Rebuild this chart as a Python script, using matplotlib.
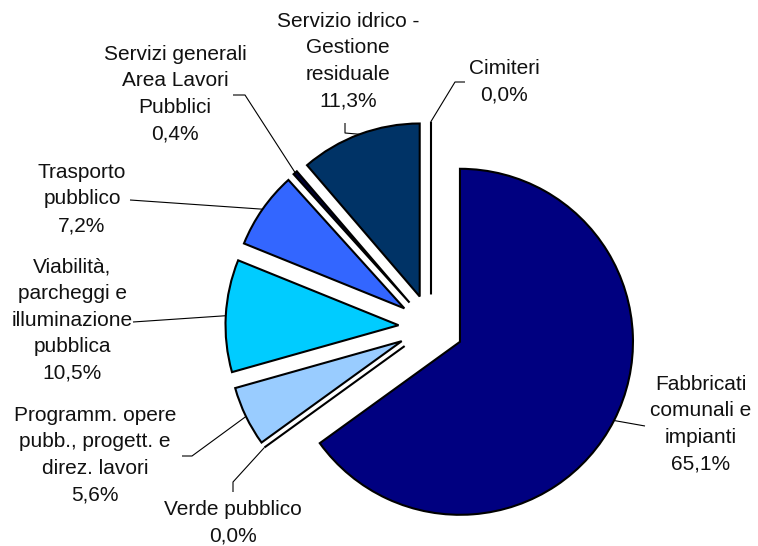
import numpy as np
import matplotlib
matplotlib.use("Agg")
import matplotlib.pyplot as plt

# Spending share per area (percent), clockwise from 12 o'clock
categories = [
    "Fabbricati\ncomunali e\nimpianti",
    "Verde pubblico",
    "Programm. opere\npubb., progett. e\ndirez. lavori",
    "Viabilità,\nparcheggi e\nilluminazione\npubblica",
    "Trasporto\npubblico",
    "Servizi generali\nArea Lavori\nPubblici",
    "Servizio idrico -\nGestione\nresiduale",
    "Cimiteri",
]
shares = [65.1, 0.0, 5.6, 10.5, 7.2, 0.4, 11.3, 0.0]
colors = ["#000080", "#FFFFFF", "#99CCFF", "#00CCFF", "#3366FF", "#000033", "#003366", "#FFFFFF"]

W, H = 758, 546

# label centres and leader-line elbows, in pixels from the top-left corner
label_pos = [(701, 424), (233, 523), (95, 455), (72, 320), (82, 199), (175, 94), (348, 61), (504, 82)]
leader_pts = [
    [(645, 426)],
    [(233, 492), (233, 482)],
    [(182, 456), (192, 456)],
    [(133, 322)],
    [(130, 200)],
    [(233, 95), (245, 95)],
    [(345, 123), (345, 133)],
    [(465, 82), (455, 82)],
]


def flip(p):
    return p[0], H - p[1]


plt.rcParams["font.family"] = ["Liberation Sans", "DejaVu Sans"]

fig = plt.figure(figsize=(W / 100, H / 100), dpi=100)
ax = fig.add_axes([0, 0, 1, 1])

radius = 173
# pie() offsets exploded wedges in data units, so scale by the radius
wedges, _ = ax.pie(
    shares,
    colors=colors,
    startangle=90,
    counterclock=False,
    explode=[0.188 * radius] * len(shares),
    radius=radius,
    center=flip((431, 327)),
    wedgeprops=dict(edgecolor="black", linewidth=1.5),
)

ax.set_xlim(0, W)
ax.set_ylim(0, H)
ax.set_aspect("equal")
ax.axis("off")

for w, name, val, pos, pts in zip(wedges, categories, shares, label_pos, leader_pts):
    # point on the outer arc at the middle of the wedge
    mid = np.deg2rad((w.theta1 + w.theta2) / 2)
    cx, cy = w.center
    arc_pt = (cx + w.r * np.cos(mid), cy + w.r * np.sin(mid))
    xs = [flip(p)[0] for p in pts] + [arc_pt[0]]
    ys = [flip(p)[1] for p in pts] + [arc_pt[1]]
    ax.plot(xs, ys, color="black", linewidth=0.8, solid_capstyle="butt")

    txt = name + "\n" + f"{val:.1f}".replace(".", ",") + "%"
    ax.text(*flip(pos), txt, ha="center", va="center", fontsize=15,
            color="#111111", linespacing=1.5)

fig.savefig("out.png", dpi=100)
